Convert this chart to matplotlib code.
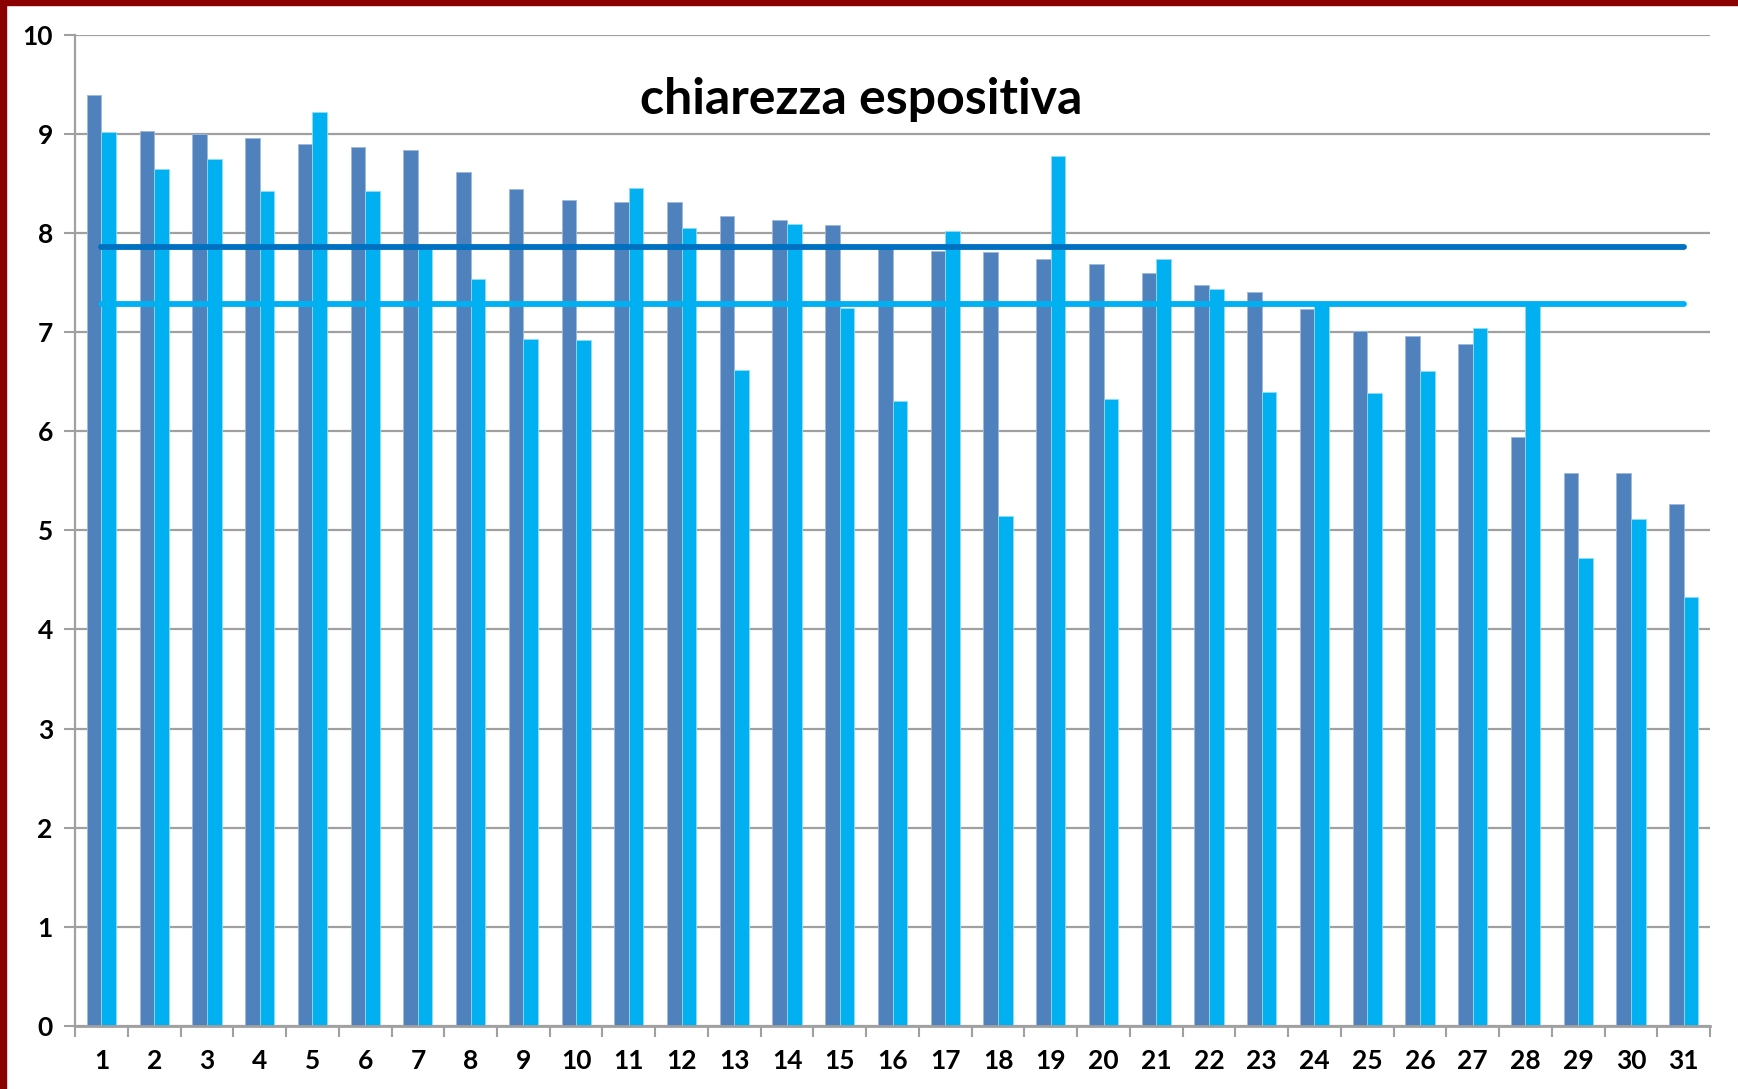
import numpy as np
import matplotlib
matplotlib.use("Agg")
import matplotlib.pyplot as plt
from matplotlib.patches import Rectangle

plt.rcParams['font.family'] = ['Lato', 'DejaVu Sans']

# data
categories = [str(i) for i in range(1, 32)]
serie_scura = [9.39, 9.03, 9.00, 8.96, 8.90, 8.87, 8.84, 8.62, 8.45, 8.34,
               8.31, 8.31, 8.17, 8.13, 8.08, 7.87, 7.82, 7.81, 7.74, 7.69,
               7.60, 7.48, 7.41, 7.23, 7.01, 6.96, 6.88, 5.94, 5.58, 5.58, 5.27]
serie_chiara = [9.02, 8.65, 8.75, 8.43, 9.22, 8.43, 7.85, 7.54, 6.93, 6.92,
                8.46, 8.05, 6.62, 8.09, 7.24, 6.31, 8.02, 5.15, 8.78, 6.33,
                7.74, 7.44, 6.40, 7.28, 6.39, 6.61, 7.04, 7.28, 4.72, 5.12, 4.33]
media_scura = 7.86
media_chiara = 7.29
title = "chiarezza espositiva"

c_dark = '#4F81BD'
c_light = '#00B0F0'
c_line_dark = '#0070C0'
c_line_light = '#00B0F0'
grid_c = '#A0A0A0'

fig = plt.figure(figsize=(17.38, 10.89), dpi=100)
ax = fig.add_axes([0.0432, 0.0581, 0.9407, 0.9097])

x = np.arange(len(categories))
w = 0.277
ax.bar(x - w / 2, serie_scura, w, color=c_dark, edgecolor='#9DB9DC', linewidth=0.6, zorder=2)
ax.bar(x + w / 2, serie_chiara, w, color=c_light, edgecolor='#8FDDF8', linewidth=0.6, zorder=2)

ax.plot(x, [media_scura] * len(x), color=c_line_dark, lw=4.2, solid_capstyle='round', zorder=3)
ax.plot(x, [media_chiara] * len(x), color=c_line_light, lw=4.2, solid_capstyle='round', zorder=3)

ax.set_xlim(-0.5, len(x) - 0.5)
ax.set_ylim(0, 10)
ax.set_yticks(range(0, 11))
ax.yaxis.grid(True, color=grid_c, lw=1.6, zorder=0)
ax.set_axisbelow(True)

ax.set_xticks(x)
ax.set_xticklabels(categories)
ax.set_xticks(np.arange(-0.5, len(x), 1), minor=True)
ax.tick_params(axis='x', which='major', length=0, pad=17, labelsize=19)
ax.tick_params(axis='x', which='minor', length=8, width=1.5, color=grid_c)
ax.tick_params(axis='y', length=8, width=1.5, color=grid_c, pad=8, labelsize=19)
for lab in ax.get_xticklabels() + ax.get_yticklabels():
    lab.set_fontweight('bold')

for s in ['top', 'right']:
    ax.spines[s].set_visible(False)
ax.spines['left'].set_color(grid_c)
ax.spines['left'].set_linewidth(1.6)
ax.spines['bottom'].set_color(grid_c)
ax.spines['bottom'].set_linewidth(2)

fig.text(0.4955, 0.909, title, ha='center', va='center', fontsize=36, fontweight='bold')

# dark red frame on top and left
fig.patches.append(Rectangle((0, 1 - 5 / 1089), 1, 5 / 1089, transform=fig.transFigure,
                             color='#8B0000', zorder=10))
fig.patches.append(Rectangle((0, 0), 6 / 1738, 1, transform=fig.transFigure,
                             color='#8B0000', zorder=10))

fig.savefig('out.png', dpi=100)
